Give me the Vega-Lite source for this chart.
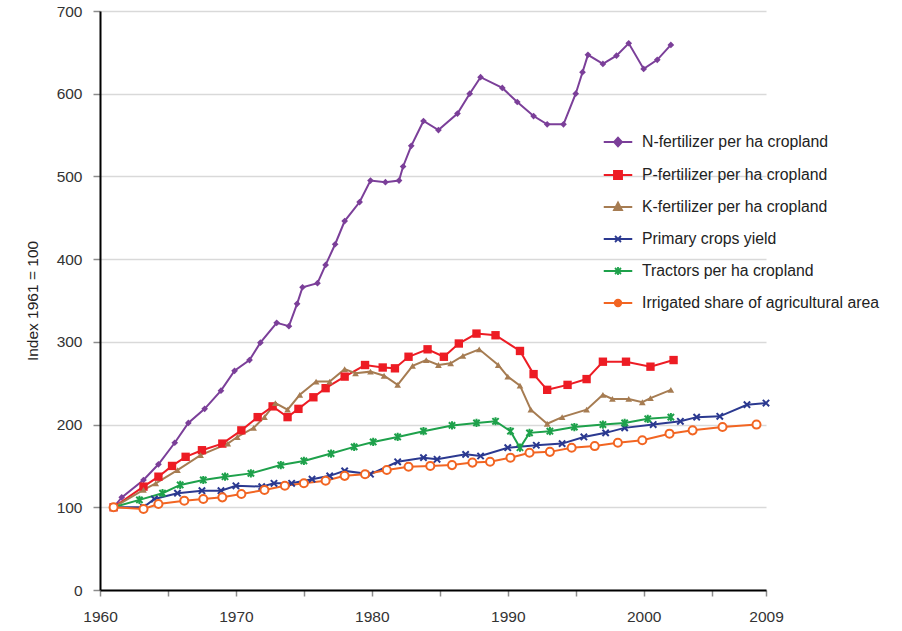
{
  "$schema": "https://vega.github.io/schema/vega-lite/v6.json",
  "width": 666,
  "height": 579,
  "autosize": {"type": "none"},
  "padding": {"left": 100, "top": 11, "right": 136, "bottom": 41},
  "background": "white",
  "config": {
    "font": "Liberation Sans",
    "view": {"stroke": null}
  },
  "datasets": {
    "d": [
      {"series": "N-fertilizer per ha cropland", "year": 1961.0, "value": 100},
      {"series": "N-fertilizer per ha cropland", "year": 1961.6, "value": 112},
      {"series": "N-fertilizer per ha cropland", "year": 1963.2, "value": 133},
      {"series": "N-fertilizer per ha cropland", "year": 1964.3, "value": 152},
      {"series": "N-fertilizer per ha cropland", "year": 1965.5, "value": 178},
      {"series": "N-fertilizer per ha cropland", "year": 1966.5, "value": 202},
      {"series": "N-fertilizer per ha cropland", "year": 1967.7, "value": 219},
      {"series": "N-fertilizer per ha cropland", "year": 1968.9, "value": 241},
      {"series": "N-fertilizer per ha cropland", "year": 1969.9, "value": 265},
      {"series": "N-fertilizer per ha cropland", "year": 1971.0, "value": 278},
      {"series": "N-fertilizer per ha cropland", "year": 1971.8, "value": 299},
      {"series": "N-fertilizer per ha cropland", "year": 1973.0, "value": 323},
      {"series": "N-fertilizer per ha cropland", "year": 1973.9, "value": 319},
      {"series": "N-fertilizer per ha cropland", "year": 1974.5, "value": 346},
      {"series": "N-fertilizer per ha cropland", "year": 1974.9, "value": 366},
      {"series": "N-fertilizer per ha cropland", "year": 1976.0, "value": 371},
      {"series": "N-fertilizer per ha cropland", "year": 1976.6, "value": 393},
      {"series": "N-fertilizer per ha cropland", "year": 1977.3, "value": 418},
      {"series": "N-fertilizer per ha cropland", "year": 1978.0, "value": 446},
      {"series": "N-fertilizer per ha cropland", "year": 1979.1, "value": 469},
      {"series": "N-fertilizer per ha cropland", "year": 1979.9, "value": 495},
      {"series": "N-fertilizer per ha cropland", "year": 1981.0, "value": 493},
      {"series": "N-fertilizer per ha cropland", "year": 1982.0, "value": 495},
      {"series": "N-fertilizer per ha cropland", "year": 1982.3, "value": 512},
      {"series": "N-fertilizer per ha cropland", "year": 1982.9, "value": 537},
      {"series": "N-fertilizer per ha cropland", "year": 1983.8, "value": 567},
      {"series": "N-fertilizer per ha cropland", "year": 1984.9, "value": 556},
      {"series": "N-fertilizer per ha cropland", "year": 1986.3, "value": 576},
      {"series": "N-fertilizer per ha cropland", "year": 1987.2, "value": 600},
      {"series": "N-fertilizer per ha cropland", "year": 1988.0, "value": 620},
      {"series": "N-fertilizer per ha cropland", "year": 1989.6, "value": 607},
      {"series": "N-fertilizer per ha cropland", "year": 1990.7, "value": 590},
      {"series": "N-fertilizer per ha cropland", "year": 1991.9, "value": 573},
      {"series": "N-fertilizer per ha cropland", "year": 1992.9, "value": 563},
      {"series": "N-fertilizer per ha cropland", "year": 1994.1, "value": 563},
      {"series": "N-fertilizer per ha cropland", "year": 1995.0, "value": 600},
      {"series": "N-fertilizer per ha cropland", "year": 1995.5, "value": 626},
      {"series": "N-fertilizer per ha cropland", "year": 1995.9, "value": 647},
      {"series": "N-fertilizer per ha cropland", "year": 1997.0, "value": 636},
      {"series": "N-fertilizer per ha cropland", "year": 1998.0, "value": 646},
      {"series": "N-fertilizer per ha cropland", "year": 1998.9, "value": 661},
      {"series": "N-fertilizer per ha cropland", "year": 2000.0, "value": 630},
      {"series": "N-fertilizer per ha cropland", "year": 2001.0, "value": 641},
      {"series": "N-fertilizer per ha cropland", "year": 2002.0, "value": 659},

      {"series": "P-fertilizer per ha cropland", "year": 1961.0, "value": 100},
      {"series": "P-fertilizer per ha cropland", "year": 1963.2, "value": 125},
      {"series": "P-fertilizer per ha cropland", "year": 1964.3, "value": 137},
      {"series": "P-fertilizer per ha cropland", "year": 1965.3, "value": 150},
      {"series": "P-fertilizer per ha cropland", "year": 1966.3, "value": 161},
      {"series": "P-fertilizer per ha cropland", "year": 1967.5, "value": 169},
      {"series": "P-fertilizer per ha cropland", "year": 1969.0, "value": 177},
      {"series": "P-fertilizer per ha cropland", "year": 1970.4, "value": 193},
      {"series": "P-fertilizer per ha cropland", "year": 1971.6, "value": 209},
      {"series": "P-fertilizer per ha cropland", "year": 1972.7, "value": 222},
      {"series": "P-fertilizer per ha cropland", "year": 1973.8, "value": 209},
      {"series": "P-fertilizer per ha cropland", "year": 1974.6, "value": 219},
      {"series": "P-fertilizer per ha cropland", "year": 1975.7, "value": 233},
      {"series": "P-fertilizer per ha cropland", "year": 1976.6, "value": 244},
      {"series": "P-fertilizer per ha cropland", "year": 1978.0, "value": 258},
      {"series": "P-fertilizer per ha cropland", "year": 1979.5, "value": 272},
      {"series": "P-fertilizer per ha cropland", "year": 1980.8, "value": 269},
      {"series": "P-fertilizer per ha cropland", "year": 1981.7, "value": 268},
      {"series": "P-fertilizer per ha cropland", "year": 1982.7, "value": 282},
      {"series": "P-fertilizer per ha cropland", "year": 1984.1, "value": 291},
      {"series": "P-fertilizer per ha cropland", "year": 1985.3, "value": 282},
      {"series": "P-fertilizer per ha cropland", "year": 1986.4, "value": 298},
      {"series": "P-fertilizer per ha cropland", "year": 1987.7, "value": 310},
      {"series": "P-fertilizer per ha cropland", "year": 1989.1, "value": 308},
      {"series": "P-fertilizer per ha cropland", "year": 1990.9, "value": 289},
      {"series": "P-fertilizer per ha cropland", "year": 1991.9, "value": 261},
      {"series": "P-fertilizer per ha cropland", "year": 1992.9, "value": 242},
      {"series": "P-fertilizer per ha cropland", "year": 1994.4, "value": 248},
      {"series": "P-fertilizer per ha cropland", "year": 1995.8, "value": 255},
      {"series": "P-fertilizer per ha cropland", "year": 1997.0, "value": 276},
      {"series": "P-fertilizer per ha cropland", "year": 1998.7, "value": 276},
      {"series": "P-fertilizer per ha cropland", "year": 2000.5, "value": 270},
      {"series": "P-fertilizer per ha cropland", "year": 2002.2, "value": 278},

      {"series": "K-fertilizer per ha cropland", "year": 1961.0, "value": 100},
      {"series": "K-fertilizer per ha cropland", "year": 1963.2, "value": 121},
      {"series": "K-fertilizer per ha cropland", "year": 1964.1, "value": 129},
      {"series": "K-fertilizer per ha cropland", "year": 1965.7, "value": 145},
      {"series": "K-fertilizer per ha cropland", "year": 1967.4, "value": 163},
      {"series": "K-fertilizer per ha cropland", "year": 1969.4, "value": 177},
      {"series": "K-fertilizer per ha cropland", "year": 1970.1, "value": 185},
      {"series": "K-fertilizer per ha cropland", "year": 1971.3, "value": 196},
      {"series": "K-fertilizer per ha cropland", "year": 1972.1, "value": 209},
      {"series": "K-fertilizer per ha cropland", "year": 1972.9, "value": 226},
      {"series": "K-fertilizer per ha cropland", "year": 1973.8, "value": 218},
      {"series": "K-fertilizer per ha cropland", "year": 1974.7, "value": 236},
      {"series": "K-fertilizer per ha cropland", "year": 1975.9, "value": 252},
      {"series": "K-fertilizer per ha cropland", "year": 1976.9, "value": 252},
      {"series": "K-fertilizer per ha cropland", "year": 1978.0, "value": 267},
      {"series": "K-fertilizer per ha cropland", "year": 1978.8, "value": 262},
      {"series": "K-fertilizer per ha cropland", "year": 1979.9, "value": 264},
      {"series": "K-fertilizer per ha cropland", "year": 1980.9, "value": 259},
      {"series": "K-fertilizer per ha cropland", "year": 1981.9, "value": 248},
      {"series": "K-fertilizer per ha cropland", "year": 1983.0, "value": 271},
      {"series": "K-fertilizer per ha cropland", "year": 1984.0, "value": 278},
      {"series": "K-fertilizer per ha cropland", "year": 1984.9, "value": 272},
      {"series": "K-fertilizer per ha cropland", "year": 1985.8, "value": 274},
      {"series": "K-fertilizer per ha cropland", "year": 1986.7, "value": 283},
      {"series": "K-fertilizer per ha cropland", "year": 1987.9, "value": 291},
      {"series": "K-fertilizer per ha cropland", "year": 1989.3, "value": 272},
      {"series": "K-fertilizer per ha cropland", "year": 1990.0, "value": 258},
      {"series": "K-fertilizer per ha cropland", "year": 1990.9, "value": 247},
      {"series": "K-fertilizer per ha cropland", "year": 1991.7, "value": 218},
      {"series": "K-fertilizer per ha cropland", "year": 1992.9, "value": 201},
      {"series": "K-fertilizer per ha cropland", "year": 1994.0, "value": 209},
      {"series": "K-fertilizer per ha cropland", "year": 1995.8, "value": 218},
      {"series": "K-fertilizer per ha cropland", "year": 1997.0, "value": 236},
      {"series": "K-fertilizer per ha cropland", "year": 1997.7, "value": 231},
      {"series": "K-fertilizer per ha cropland", "year": 1998.9, "value": 231},
      {"series": "K-fertilizer per ha cropland", "year": 1999.9, "value": 227},
      {"series": "K-fertilizer per ha cropland", "year": 2000.5, "value": 232},
      {"series": "K-fertilizer per ha cropland", "year": 2002.0, "value": 242},

      {"series": "Primary crops yield", "year": 1961.0, "value": 100},
      {"series": "Primary crops yield", "year": 1963.2, "value": 100},
      {"series": "Primary crops yield", "year": 1964.0, "value": 110},
      {"series": "Primary crops yield", "year": 1965.7, "value": 117},
      {"series": "Primary crops yield", "year": 1967.5, "value": 120},
      {"series": "Primary crops yield", "year": 1968.9, "value": 120},
      {"series": "Primary crops yield", "year": 1970.0, "value": 126},
      {"series": "Primary crops yield", "year": 1971.9, "value": 125},
      {"series": "Primary crops yield", "year": 1972.8, "value": 129},
      {"series": "Primary crops yield", "year": 1974.1, "value": 129},
      {"series": "Primary crops yield", "year": 1975.6, "value": 134},
      {"series": "Primary crops yield", "year": 1976.9, "value": 138},
      {"series": "Primary crops yield", "year": 1978.0, "value": 144},
      {"series": "Primary crops yield", "year": 1979.9, "value": 140},
      {"series": "Primary crops yield", "year": 1981.9, "value": 155},
      {"series": "Primary crops yield", "year": 1983.8, "value": 160},
      {"series": "Primary crops yield", "year": 1984.8, "value": 158},
      {"series": "Primary crops yield", "year": 1986.9, "value": 164},
      {"series": "Primary crops yield", "year": 1988.0, "value": 162},
      {"series": "Primary crops yield", "year": 1990.0, "value": 172},
      {"series": "Primary crops yield", "year": 1992.1, "value": 175},
      {"series": "Primary crops yield", "year": 1994.0, "value": 177},
      {"series": "Primary crops yield", "year": 1995.6, "value": 185},
      {"series": "Primary crops yield", "year": 1997.2, "value": 190},
      {"series": "Primary crops yield", "year": 1998.6, "value": 196},
      {"series": "Primary crops yield", "year": 2000.7, "value": 200},
      {"series": "Primary crops yield", "year": 2002.7, "value": 204},
      {"series": "Primary crops yield", "year": 2003.9, "value": 209},
      {"series": "Primary crops yield", "year": 2005.6, "value": 210},
      {"series": "Primary crops yield", "year": 2007.6, "value": 224},
      {"series": "Primary crops yield", "year": 2009.0, "value": 226},

      {"series": "Tractors per ha cropland", "year": 1961.0, "value": 100},
      {"series": "Tractors per ha cropland", "year": 1962.9, "value": 109},
      {"series": "Tractors per ha cropland", "year": 1964.6, "value": 117},
      {"series": "Tractors per ha cropland", "year": 1965.9, "value": 127},
      {"series": "Tractors per ha cropland", "year": 1967.6, "value": 133},
      {"series": "Tractors per ha cropland", "year": 1969.2, "value": 137},
      {"series": "Tractors per ha cropland", "year": 1971.1, "value": 141},
      {"series": "Tractors per ha cropland", "year": 1973.3, "value": 151},
      {"series": "Tractors per ha cropland", "year": 1975.0, "value": 156},
      {"series": "Tractors per ha cropland", "year": 1977.0, "value": 165},
      {"series": "Tractors per ha cropland", "year": 1978.7, "value": 173},
      {"series": "Tractors per ha cropland", "year": 1980.1, "value": 179},
      {"series": "Tractors per ha cropland", "year": 1981.9, "value": 185},
      {"series": "Tractors per ha cropland", "year": 1983.8, "value": 192},
      {"series": "Tractors per ha cropland", "year": 1985.9, "value": 199},
      {"series": "Tractors per ha cropland", "year": 1987.7, "value": 202},
      {"series": "Tractors per ha cropland", "year": 1989.1, "value": 204},
      {"series": "Tractors per ha cropland", "year": 1990.2, "value": 192},
      {"series": "Tractors per ha cropland", "year": 1990.9, "value": 172},
      {"series": "Tractors per ha cropland", "year": 1991.6, "value": 190},
      {"series": "Tractors per ha cropland", "year": 1993.1, "value": 192},
      {"series": "Tractors per ha cropland", "year": 1994.9, "value": 197},
      {"series": "Tractors per ha cropland", "year": 1997.0, "value": 200},
      {"series": "Tractors per ha cropland", "year": 1998.6, "value": 202},
      {"series": "Tractors per ha cropland", "year": 2000.3, "value": 207},
      {"series": "Tractors per ha cropland", "year": 2002.0, "value": 209},

      {"series": "Irrigated share of agricultural area", "year": 1961.0, "value": 100},
      {"series": "Irrigated share of agricultural area", "year": 1963.2, "value": 98},
      {"series": "Irrigated share of agricultural area", "year": 1964.3, "value": 104},
      {"series": "Irrigated share of agricultural area", "year": 1966.2, "value": 108},
      {"series": "Irrigated share of agricultural area", "year": 1967.6, "value": 110},
      {"series": "Irrigated share of agricultural area", "year": 1969.0, "value": 112},
      {"series": "Irrigated share of agricultural area", "year": 1970.4, "value": 116},
      {"series": "Irrigated share of agricultural area", "year": 1972.1, "value": 121},
      {"series": "Irrigated share of agricultural area", "year": 1973.6, "value": 126},
      {"series": "Irrigated share of agricultural area", "year": 1975.0, "value": 129},
      {"series": "Irrigated share of agricultural area", "year": 1976.6, "value": 132},
      {"series": "Irrigated share of agricultural area", "year": 1978.0, "value": 138},
      {"series": "Irrigated share of agricultural area", "year": 1979.5, "value": 140},
      {"series": "Irrigated share of agricultural area", "year": 1981.1, "value": 145},
      {"series": "Irrigated share of agricultural area", "year": 1982.7, "value": 149},
      {"series": "Irrigated share of agricultural area", "year": 1984.3, "value": 150},
      {"series": "Irrigated share of agricultural area", "year": 1985.9, "value": 151},
      {"series": "Irrigated share of agricultural area", "year": 1987.4, "value": 154},
      {"series": "Irrigated share of agricultural area", "year": 1988.7, "value": 155},
      {"series": "Irrigated share of agricultural area", "year": 1990.2, "value": 160},
      {"series": "Irrigated share of agricultural area", "year": 1991.6, "value": 166},
      {"series": "Irrigated share of agricultural area", "year": 1993.1, "value": 167},
      {"series": "Irrigated share of agricultural area", "year": 1994.7, "value": 172},
      {"series": "Irrigated share of agricultural area", "year": 1996.4, "value": 174},
      {"series": "Irrigated share of agricultural area", "year": 1998.1, "value": 178},
      {"series": "Irrigated share of agricultural area", "year": 1999.9, "value": 181},
      {"series": "Irrigated share of agricultural area", "year": 2001.9, "value": 189},
      {"series": "Irrigated share of agricultural area", "year": 2003.6, "value": 193},
      {"series": "Irrigated share of agricultural area", "year": 2005.8, "value": 197},
      {"series": "Irrigated share of agricultural area", "year": 2008.3, "value": 200}
    ]
  },
  "data": {"name": "d"},
  "encoding": {
    "x": {
      "field": "year",
      "type": "quantitative",
      "scale": {"domain": [1960, 2009], "nice": false, "zero": false},
      "axis": {
        "title": null,
        "values": [1960, 1965, 1970, 1975, 1980, 1985, 1990, 1995, 2000, 2005, 2009],
        "labelExpr": "datum.value % 10 == 0 || datum.value == 2009 ? format(datum.value, 'd') : ''",
        "grid": false,
        "domainColor": "#000000",
        "domainWidth": 2,
        "tickColor": "#8c8c8c",
        "tickWidth": 1.5,
        "tickSize": 6,
        "labelFontSize": 15.5,
        "labelColor": "#333333",
        "labelPadding": 13,
        "labelFlush": false,
        "labelOverlap": false
      }
    },
    "y": {
      "field": "value",
      "type": "quantitative",
      "scale": {"domain": [0, 700], "nice": false},
      "axis": {
        "title": "Index 1961 = 100",
        "titleFontSize": 15.5,
        "titleFontWeight": "normal",
        "titleColor": "#222222",
        "titlePadding": 16,
        "values": [0, 100, 200, 300, 400, 500, 600, 700],
        "grid": true,
        "gridColor": "#d9d9d9",
        "gridWidth": 1.5,
        "domainColor": "#000000",
        "domainWidth": 2,
        "tickColor": "#8c8c8c",
        "tickWidth": 1.5,
        "tickSize": 7,
        "labelFontSize": 15.5,
        "labelColor": "#333333",
        "labelPadding": 11
      }
    },
    "color": {
      "field": "series",
      "type": "nominal",
      "scale": {
        "domain": ["N-fertilizer per ha cropland", "P-fertilizer per ha cropland", "K-fertilizer per ha cropland", "Primary crops yield", "Tractors per ha cropland", "Irrigated share of agricultural area"],
        "range": ["#7b3f99", "#ed1c24", "#a67c52", "#2b3990", "#1ea14b", "#f26522"]
      },
      "legend": {
        "title": null,
        "orient": "none",
        "legendX": 502,
        "legendY": 115,
        "padding": 0,
        "symbolSize": 900,
        "symbolType": "circle",
        "rowPadding": 8,
        "labelOffset": 8,
        "labelFontSize": 15.8,
        "labelColor": "#222222",
        "labelLimit": 400,
        "encode": {
          "symbols": {
            "update": {
              "shape": {"signal": "datum.value == 'N-fertilizer per ha cropland' ? 'M-0.95,0H0.95M0,-0.3L0.27,0L0,0.3L-0.27,0Z' : datum.value == 'P-fertilizer per ha cropland' ? 'M-0.95,0H0.95M-0.27,-0.27H0.27V0.27H-0.27Z' : datum.value == 'K-fertilizer per ha cropland' ? 'M-0.95,0H0.95M0,-0.3L0.27,0.2H-0.27Z' : datum.value == 'Primary crops yield' ? 'M-0.95,0H0.95M-0.2,-0.2L0.2,0.2M0.2,-0.2L-0.2,0.2' : datum.value == 'Tractors per ha cropland' ? 'M-0.95,0H0.95M-0.2,-0.2L0.2,0.2M0.2,-0.2L-0.2,0.2M0,-0.27V0.27' : 'M-0.95,0H-0.22M0.22,0H0.95M0.22,0A0.22,0.22 0 1,1 -0.22,0A0.22,0.22 0 1,1 0.22,0Z'"},
              "fill": {"signal": "datum.value == 'Irrigated share of agricultural area' ? 'white' : (datum.value == 'Primary crops yield' || datum.value == 'Tractors per ha cropland') ? 'transparent' : scale('color', datum.value)"},
              "stroke": {"signal": "scale('color', datum.value)"},
              "strokeWidth": {"value": 1.8},
              "opacity": {"value": 1},
              "fillOpacity": {"value": 1},
              "strokeOpacity": {"value": 1}
            }
          }
        }
      }
    }
  },
  "layer": [
    {
      "mark": {"type": "line", "strokeWidth": 2}
    },
    {
      "transform": [{"filter": {"field": "series", "equal": "N-fertilizer per ha cropland"}}],
      "mark": {"type": "point", "shape": "diamond", "filled": true, "size": 45, "opacity": 1}
    },
    {
      "transform": [{"filter": {"field": "series", "equal": "P-fertilizer per ha cropland"}}],
      "mark": {"type": "point", "shape": "square", "filled": true, "size": 70, "opacity": 1}
    },
    {
      "transform": [{"filter": {"field": "series", "equal": "K-fertilizer per ha cropland"}}],
      "mark": {"type": "point", "shape": "triangle-up", "filled": true, "size": 45, "opacity": 1}
    },
    {
      "transform": [{"filter": {"field": "series", "equal": "Primary crops yield"}}],
      "mark": {"type": "point", "shape": "M-1,-1L1,1M1,-1L-1,1", "filled": false, "size": 40, "strokeWidth": 2, "opacity": 1}
    },
    {
      "transform": [{"filter": {"field": "series", "equal": "Tractors per ha cropland"}}],
      "mark": {"type": "point", "shape": "M-1,-1L1,1M1,-1L-1,1M0,-1.3L0,1.3", "filled": false, "size": 40, "strokeWidth": 2, "opacity": 1}
    },
    {
      "transform": [{"filter": {"field": "series", "equal": "Irrigated share of agricultural area"}}],
      "mark": {"type": "point", "shape": "circle", "filled": false, "fill": "white", "fillOpacity": 1, "size": 65, "strokeWidth": 2, "opacity": 1}
    }
  ]
}
